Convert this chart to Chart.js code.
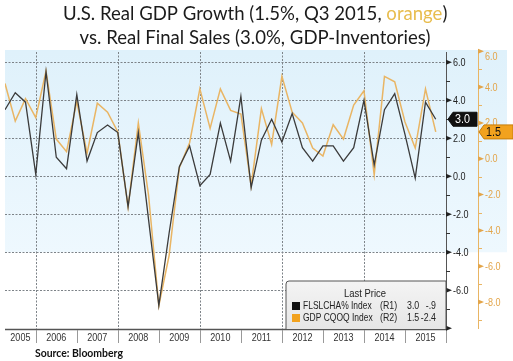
<!DOCTYPE html>
<html>
<head>
<meta charset="utf-8">
<script src="https://cdn.jsdelivr.net/npm/chart.js@4.4.1/dist/chart.umd.min.js"></script>
<style>
    html, body { margin: 0; padding: 0; background: #fff; }
    canvas { display: block; }
</style>
</head>
<body>
<canvas id="c" width="513" height="361"></canvas>
<script>
// quarterly data, Q1 2005 .. Q3 2015 (plotted at quarter end)
const quarters = [
    '2005Q1','2005Q2','2005Q3','2005Q4','2006Q1','2006Q2','2006Q3','2006Q4',
    '2007Q1','2007Q2','2007Q3','2007Q4','2008Q1','2008Q2','2008Q3','2008Q4',
    '2009Q1','2009Q2','2009Q3','2009Q4','2010Q1','2010Q2','2010Q3','2010Q4',
    '2011Q1','2011Q2','2011Q3','2011Q4','2012Q1','2012Q2','2012Q3','2012Q4',
    '2013Q1','2013Q2','2013Q3','2013Q4','2014Q1','2014Q2','2014Q3','2014Q4',
    '2015Q1','2015Q2','2015Q3'
];
// FLSLCHA% Index (R1, black)
const finalSales = [
    3.5, 4.4, 3.9, 0.1, 5.5, 1.0, 0.4, 4.3, 0.8, 2.3, 2.7, 2.3,
    -1.6, 2.3, -2.3, -6.8, -3.0, 0.5, 1.6, -0.5, 0.1, 2.8, 0.8, 4.2,
    -0.6, 1.9, 3.0, 1.8, 3.3, 1.5, 0.8, 1.6, 1.6, 0.8, 1.5, 4.0,
    0.6, 3.5, 4.35, 2.2, -0.1, 3.9, 3.0
];
// GDP CQOQ Index (R2, orange)
const gdpGrowth = [
    4.2, 2.1, 3.35, 2.3, 4.9, 1.1, 0.4, 3.2, 0.3, 3.1, 2.6, 1.5,
    -2.7, 2.0, -2.05, -8.2, -5.4, -0.5, 0.9, 3.9, 1.7, 3.9, 2.7, 2.5,
    -1.5, 2.8, 0.8, 4.6, 2.6, 2.0, 0.6, 0.15, 1.9, 1.1, 3.0, 3.8,
    -0.9, 4.6, 4.3, 2.05, 0.6, 3.9, 1.5
];
const yearLabels = ['2005','2006','2007','2008','2009','2010','2011','2012','2013','2014','2015'];
const gridYears = [2006, 2008, 2010, 2012, 2014];
const r1Labels = ['6.0','4.0','2.0','0.0','-2.0','-4.0','-6.0'];
const r2Labels = ['6.0','4.0','2.0','0.0','-2.0','-4.0','-6.0','-8.0'];
const seriesNames = ['FLSLCHA% Index', 'GDP CQOQ Index'];
const seriesAxes = ['(R1)', '(R2)'];
const lastPrice = [['3.0', '-.9'], ['1.5', '-2.4']];

const BLACK = '#3b3b3b';
const ORANGE = '#e9b564';
const ORANGE_TXT = '#e3a54a';
const SANS = '"Liberation Sans", Arial, sans-serif';

const toX = q => +q.slice(0, 4) + +q.slice(5) / 4;

function fitFont(ctx, text, weight, family, width) {
    ctx.font = `${weight} 20px ${family}`;
    const s = 20 * width / ctx.measureText(text).width;
    return `${weight} ${s.toFixed(2)}px ${family}`;
}

// condensed text (Bloomberg terminal style)
function nText(ctx, txt, x, y, align = 'left', sx = 0.82) {
    ctx.save();
    ctx.translate(x, y);
    ctx.scale(sx, 1);
    ctx.textAlign = align;
    ctx.fillText(txt, 0, 0);
    ctx.restore();
}

const bloomberg = {
    id: 'bloomberg',
    beforeDatasetsDraw(chart) {
        const { ctx, chartArea: a, scales: { x, y } } = chart;
        ctx.save();
        const yb = y.getPixelForValue(-4);
        const g = ctx.createLinearGradient(0, a.top, 0, yb);
        g.addColorStop(0, '#dff1fb');
        g.addColorStop(1, '#eef8fe');
        ctx.fillStyle = g;
        ctx.fillRect(a.left, a.top - 2, chart.width - 6 - a.left, yb - a.top + 2);

        // dotted grid
        ctx.strokeStyle = '#7d8388';
        ctx.lineWidth = 1;
        ctx.setLineDash([2, 1.5]);
        ctx.beginPath();
        r1Labels.forEach(t => {
            const py = Math.round(y.getPixelForValue(parseFloat(t))) + .5;
            ctx.moveTo(a.left, py); ctx.lineTo(a.right, py);
        });
        gridYears.forEach(yr => {
            const px = Math.round(x.getPixelForValue(yr)) + .5;
            ctx.moveTo(px, a.top); ctx.lineTo(px, a.bottom);
        });
        ctx.stroke();
        ctx.restore();
    },
    afterDatasetsDraw(chart) {
        const { ctx, chartArea: a, scales: { x, y, y2 } } = chart;
        ctx.save();

        // x axis + year bands
        ctx.strokeStyle = '#555';
        ctx.lineWidth = 1.5;
        ctx.beginPath(); ctx.moveTo(a.left, a.bottom + .5); ctx.lineTo(a.right, a.bottom + .5); ctx.stroke();
        ctx.lineWidth = 1;
        ctx.strokeStyle = '#999';
        ctx.font = `11px ${SANS}`;
        ctx.fillStyle = '#333';
        ctx.textBaseline = 'middle';
        yearLabels.forEach(lbl => {
            const yr = +lbl;
            const x0 = Math.max(x.getPixelForValue(yr), a.left);
            const x1 = Math.min(x.getPixelForValue(yr + 1), a.right);
            const px = Math.round(x1) + .5;
            ctx.beginPath(); ctx.moveTo(px, a.bottom + 1); ctx.lineTo(px, a.bottom + 14); ctx.stroke();
            nText(ctx, lbl, (x0 + x1) / 2, a.bottom + 9, 'center');
        });

        // R1 axis (black)
        const ax1 = a.right;
        ctx.strokeStyle = '#555';
        ctx.beginPath(); ctx.moveTo(ax1 + .5, a.top); ctx.lineTo(ax1 + .5, a.bottom); ctx.stroke();
        ctx.fillStyle = '#222';
        ctx.strokeStyle = '#333';
        for (let v = -7; v <= 6; v += 2) {
            const py = Math.round(y.getPixelForValue(v)) + .5;
            ctx.beginPath(); ctx.moveTo(ax1, py); ctx.lineTo(ax1 + 4, py); ctx.stroke();
        }
        [...r1Labels, '-8.0'].forEach(t => {
            const py = y.getPixelForValue(parseFloat(t));
            ctx.beginPath(); ctx.moveTo(ax1, py - 2.5); ctx.lineTo(ax1 + 6, py); ctx.lineTo(ax1, py + 2.5); ctx.fill();
            if (r1Labels.includes(t)) nText(ctx, t, ax1 + 7, py + .5);
        });

        // R2 axis (orange)
        const ax2 = ax1 + 32;
        ctx.strokeStyle = ORANGE;
        ctx.beginPath(); ctx.moveTo(ax2 + .5, a.top); ctx.lineTo(ax2 + .5, a.bottom); ctx.stroke();
        for (let v = -9; v <= 5; v += 2) {
            const py = Math.round(y2.getPixelForValue(v)) + .5;
            ctx.beginPath(); ctx.moveTo(ax2, py); ctx.lineTo(ax2 + 4, py); ctx.stroke();
        }
        ctx.fillStyle = ORANGE_TXT;
        r2Labels.forEach(t => {
            const py = y2.getPixelForValue(parseFloat(t));
            ctx.beginPath(); ctx.moveTo(ax2, py - 2.5); ctx.lineTo(ax2 + 6, py); ctx.lineTo(ax2, py + 2.5); ctx.fill();
            nText(ctx, t, ax2 + 7, Math.max(py + .5, a.top + 5));
        });

        // last value tags
        const tag = (x0, x1, cy, fill, stroke, txtColor, txt) => {
            ctx.beginPath();
            ctx.moveTo(x0, cy); ctx.lineTo(x0 + 5, cy - 7); ctx.lineTo(x1, cy - 7);
            ctx.lineTo(x1, cy + 7); ctx.lineTo(x0 + 5, cy + 7); ctx.closePath();
            ctx.fillStyle = fill; ctx.fill();
            ctx.strokeStyle = stroke; ctx.stroke();
            ctx.fillStyle = txtColor;
            nText(ctx, txt, x0 + 7, cy + .5, 'left', 0.9);
        };
        ctx.font = `12px ${SANS}`;
        tag(ax1 + 2, ax2 - 1, y.getPixelForValue(finalSales[finalSales.length - 1]), '#111', '#111', '#fff', lastPrice[0][0]);
        tag(ax2 + 1, chart.width, y2.getPixelForValue(gdpGrowth[gdpGrowth.length - 1]), '#f2a21e', '#c77d0a', '#111', lastPrice[1][0]);

        // legend box
        const bx = a.right - 160, by = a.bottom - 48;
        ctx.beginPath();
        ctx.moveTo(bx, a.bottom); ctx.lineTo(bx, by + 3); ctx.arcTo(bx, by, bx + 3, by, 3);
        ctx.lineTo(a.right, by); ctx.lineTo(a.right, a.bottom);
        const lg = ctx.createLinearGradient(0, by, 0, a.bottom);
        lg.addColorStop(0, '#f4f4f4'); lg.addColorStop(1, '#e6e6e6');
        ctx.fillStyle = lg; ctx.fill();
        ctx.strokeStyle = '#555'; ctx.lineWidth = 1; ctx.stroke();
        ctx.font = `11.5px ${SANS}`;
        ctx.fillStyle = '#222';
        nText(ctx, 'Last Price', bx + 79, by + 13, 'center');
        ctx.font = `11px ${SANS}`;
        const colors = ['#111', '#f2a21e'];
        seriesNames.forEach((n, i) => {
            const ry = by + 25 + i * 12;
            ctx.fillStyle = colors[i];
            ctx.fillRect(bx + 6, ry - 4, 8, 8);
            ctx.fillStyle = '#222';
            nText(ctx, n, bx + 17, ry, 'left', 0.77);
            nText(ctx, seriesAxes[i], bx + 94, ry, 'left', 0.8);
            nText(ctx, lastPrice[i][0], bx + 121, ry, 'left', 0.8);
            nText(ctx, lastPrice[i][1], bx + 150, ry, 'right', 0.8);
        });

        // title
        const t1a = 'U.S. Real GDP Growth (1.5%, Q3 2015, ', t1b = 'orange', t1c = ')';
        const t2 = 'vs. Real Final Sales (3.0%, GDP-Inventories)';
        const fam = 'Lato, "Open Sans", sans-serif';
        ctx.font = fitFont(ctx, t1a + t1b + t1c, 'normal', fam, 384);
        ctx.textBaseline = 'alphabetic';
        ctx.textAlign = 'left';
        const w1 = ctx.measureText(t1a + t1b + t1c).width;
        let tx = 255 - w1 / 2;
        ctx.fillStyle = '#1b1b1b';
        ctx.fillText(t1a, tx, 20); tx += ctx.measureText(t1a).width;
        ctx.fillStyle = '#e8bd4e';
        ctx.fillText(t1b, tx, 20); tx += ctx.measureText(t1b).width;
        ctx.fillStyle = '#1b1b1b';
        ctx.fillText(t1c, tx, 20);
        ctx.textAlign = 'center';
        ctx.fillText(t2, 255, 44);

        // source
        ctx.textAlign = 'left';
        ctx.font = fitFont(ctx, 'Source: Bloomberg', 'bold', fam, 88);
        ctx.fillStyle = '#111';
        ctx.fillText('Source: Bloomberg', 35, 357);
        ctx.restore();
    }
};

new Chart(document.getElementById('c'), {
    type: 'line',
    data: {
        datasets: [
            { label: seriesNames[0], data: quarters.map((q, i) => ({ x: toX(q), y: finalSales[i] })), yAxisID: 'y', borderColor: BLACK, borderWidth: 1.3, pointRadius: 0, tension: 0 },
            { label: seriesNames[1], data: quarters.map((q, i) => ({ x: toX(q), y: gdpGrowth[i] })), yAxisID: 'y2', borderColor: ORANGE, borderWidth: 1.5, pointRadius: 0, tension: 0 },
        ],
    },
    options: {
        responsive: false,
        animation: false,
        events: [],
        layout: { padding: { left: 5, top: 52, right: 67, bottom: 32 } },
        plugins: { legend: { display: false }, title: { display: false }, tooltip: { enabled: false } },
        scales: {
            x: { type: 'linear', min: 2005.25, max: 2016, display: false },
            y: { min: -8.04, max: 6.54, display: false },
            y2: { min: -9.5, max: 5.96, display: false },
        },
    },
    plugins: [bloomberg],
});
</script>
</body>
</html>
